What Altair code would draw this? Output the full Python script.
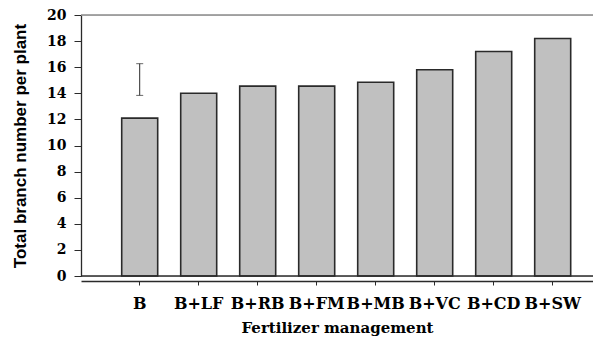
import altair as alt
import pandas as pd

categories = ["B", "B+LF", "B+RB", "B+FM", "B+MB", "B+VC", "B+CD", "B+SW"]
branches = [12.1, 14.0, 14.55, 14.55, 14.85, 15.8, 17.2, 18.2]
err_category = ["B"]
err_low = [13.84]
err_high = [16.27]
y_ticks = [0, 2, 4, 6, 8, 10, 12, 14, 16, 18, 20]

df = pd.DataFrame({"cat": categories, "val": branches})
edf = pd.DataFrame({"cat": err_category, "lo": err_low, "hi": err_high})

W, H = 512, 261
dark = "#2a2a2a"

xscale = alt.Scale(domain=categories, paddingInner=0.39, paddingOuter=0.534, align=0.646)
yscale = alt.Scale(domain=[0, 20], nice=False, zero=True)

xaxis = alt.Axis(
    title="Fertilizer management", orient="bottom", offset=5,
    domainColor=dark, domainWidth=1.3, tickColor=dark, tickSize=4, tickWidth=1,
    labelAngle=0, labelFont="DejaVu Serif", labelFontWeight="bold", labelFontSize=16,
    labelColor="black", labelPadding=10, labelOverlap=False,
    titleFont="DejaVu Serif", titleFontWeight="bold", titleFontSize=15,
    titleColor="black", titlePadding=9,
)
yaxis = alt.Axis(
    title="Total branch number per plant", values=y_ticks, grid=False,
    labelOverlap=False, tickCount=11,
    domainColor=dark, domainWidth=1.3, tickColor=dark, tickSize=7, tickWidth=1,
    labelFont="DejaVu Serif", labelFontWeight="bold", labelFontSize=14,
    labelColor="black", labelPadding=8,
    titleFont="Liberation Sans", titleFontWeight="bold", titleFontSize=17,
    titleColor="black", titlePadding=17,
)

X = alt.X("cat:N", scale=xscale, axis=xaxis, sort=categories)

bars = alt.Chart(df).mark_bar(
    color="#c0c0c0", stroke=dark, strokeWidth=1.6
).encode(
    x=X,
    y=alt.Y("val:Q", scale=yscale, axis=yaxis),
)

err_rule = alt.Chart(edf).mark_rule(color=dark, strokeWidth=1).encode(
    x=X,
    y=alt.Y("lo:Q", scale=yscale, axis=yaxis),
    y2="hi:Q",
)
err_top = alt.Chart(edf).mark_tick(color=dark, thickness=1, size=7).encode(
    x=X,
    y=alt.Y("hi:Q", scale=yscale, axis=yaxis),
)
err_bot = alt.Chart(edf).mark_tick(color=dark, thickness=1, size=7).encode(
    x=X,
    y=alt.Y("lo:Q", scale=yscale, axis=yaxis),
)

top_line = alt.Chart(pd.DataFrame({"v": [20]})).mark_rule(color="#8a8a8a", strokeWidth=1.5).encode(
    y=alt.Y("v:Q", scale=yscale, axis=yaxis)
)
bottom_line = alt.Chart(pd.DataFrame({"v": [0]})).mark_rule(color=dark, strokeWidth=1.3).encode(
    y=alt.Y("v:Q", scale=yscale, axis=yaxis)
)

chart = alt.layer(bars, err_rule, err_top, err_bot, top_line, bottom_line).properties(
    width=W, height=H,
    autosize=alt.AutoSizeParams(type="none"),
    padding={"left": 73, "top": 7, "right": 0, "bottom": 60},
).configure_view(stroke=None).configure(background="white")

chart.save("out.html", embed_options={"renderer": "svg", "actions": False})
